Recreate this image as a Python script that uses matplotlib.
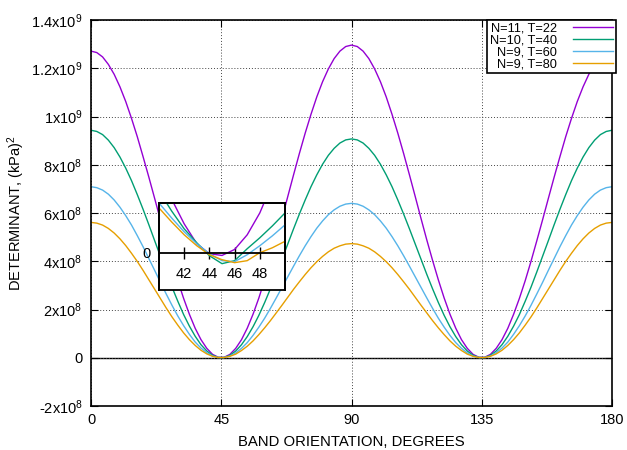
import numpy as np
import matplotlib
matplotlib.use('Agg')
import matplotlib.pyplot as plt

plt.rcParams['font.family'] = ['Liberation Sans', 'DejaVu Sans']
plt.rcParams['mathtext.default'] = 'regular'

# band orientation (degrees), sampled every 2 degrees
angles = np.arange(0, 181, 2)

# determinant values, units of 1e8 (kPa)^2
det_n11_t22 = [12.71, 12.65, 12.47, 12.16, 11.75, 11.23, 10.62, 9.92, 9.16, 8.33,
               7.48, 6.60, 5.71, 4.84, 3.99, 3.19, 2.46, 1.80, 1.22, 0.75,
               0.39, 0.14, 0.02, 0.02, 0.14, 0.39, 0.75, 1.23, 1.81, 2.48,
               3.23, 4.04, 4.89, 5.78, 6.69, 7.59, 8.47, 9.31, 10.09, 10.81,
               11.44, 11.97, 12.40, 12.71, 12.90, 12.96,
               12.90, 12.71, 12.40, 11.97, 11.44, 10.81, 10.09, 9.31, 8.47, 7.59,
               6.69, 5.78, 4.89, 4.04, 3.23, 2.48, 1.81, 1.23, 0.75, 0.39,
               0.14, 0.02, 0.02, 0.14, 0.39, 0.75, 1.22, 1.80, 2.46, 3.19,
               3.99, 4.84, 5.71, 6.60, 7.48, 8.33, 9.16, 9.92, 10.62, 11.23,
               11.75, 12.16, 12.47, 12.65, 12.71]
det_n10_t40 = [9.43, 9.38, 9.25, 9.02, 8.71, 8.32, 7.86, 7.34, 6.76, 6.15,
               5.51, 4.85, 4.20, 3.55, 2.92, 2.34, 1.79, 1.31, 0.89, 0.54,
               0.28, 0.10, 0.01, 0.01, 0.10, 0.28, 0.54, 0.88, 1.29, 1.76,
               2.29, 2.86, 3.46, 4.09, 4.72, 5.35, 5.96, 6.54, 7.09, 7.58,
               8.02, 8.39, 8.68, 8.90, 9.03, 9.07,
               9.03, 8.90, 8.68, 8.39, 8.02, 7.58, 7.09, 6.54, 5.96, 5.35,
               4.72, 4.09, 3.46, 2.86, 2.29, 1.76, 1.29, 0.88, 0.54, 0.28,
               0.10, 0.01, 0.01, 0.10, 0.28, 0.54, 0.89, 1.31, 1.79, 2.34,
               2.92, 3.55, 4.20, 4.85, 5.51, 6.15, 6.76, 7.34, 7.86, 8.32,
               8.71, 9.02, 9.25, 9.38, 9.43]
det_n9_t60 = [7.09, 7.05, 6.95, 6.78, 6.54, 6.24, 5.89, 5.50, 5.06, 4.60,
              4.11, 3.62, 3.12, 2.64, 2.17, 1.73, 1.33, 0.97, 0.65, 0.40,
              0.21, 0.07, 0.01, 0.01, 0.07, 0.20, 0.39, 0.63, 0.93, 1.27,
              1.64, 2.05, 2.48, 2.92, 3.36, 3.80, 4.23, 4.64, 5.02, 5.37,
              5.67, 5.93, 6.13, 6.28, 6.37, 6.40,
              6.37, 6.28, 6.13, 5.93, 5.67, 5.37, 5.02, 4.64, 4.23, 3.80,
              3.36, 2.92, 2.48, 2.05, 1.64, 1.27, 0.93, 0.63, 0.39, 0.20,
              0.07, 0.01, 0.01, 0.07, 0.21, 0.40, 0.65, 0.97, 1.33, 1.73,
              2.17, 2.64, 3.12, 3.62, 4.11, 4.60, 5.06, 5.50, 5.89, 6.24,
              6.54, 6.78, 6.95, 7.05, 7.09]
det_n9_t80 = [5.61, 5.58, 5.50, 5.36, 5.17, 4.93, 4.65, 4.33, 3.99, 3.62,
              3.23, 2.84, 2.45, 2.06, 1.69, 1.35, 1.03, 0.75, 0.51, 0.31,
              0.16, 0.06, 0.01, 0.01, 0.06, 0.15, 0.30, 0.48, 0.70, 0.96,
              1.24, 1.54, 1.86, 2.18, 2.51, 2.84, 3.15, 3.45, 3.73, 3.98,
              4.20, 4.39, 4.54, 4.64, 4.71, 4.73,
              4.71, 4.64, 4.54, 4.39, 4.20, 3.98, 3.73, 3.45, 3.15, 2.84,
              2.51, 2.18, 1.86, 1.54, 1.24, 0.96, 0.70, 0.48, 0.30, 0.15,
              0.06, 0.01, 0.01, 0.06, 0.16, 0.31, 0.51, 0.75, 1.03, 1.35,
              1.69, 2.06, 2.45, 2.84, 3.23, 3.62, 3.99, 4.33, 4.65, 4.93,
              5.17, 5.36, 5.50, 5.58, 5.61]

# zoomed view around 45 degrees, units of 1e6 (kPa)^2
inset_angles = np.arange(40, 51, 1)
inset_n11_t22 = [34, 21.6, 11.6, 3.6, -0.4, -1.1, 1.3, 7.2, 16, 28, 42]
inset_n10_t40 = [24.8, 16.8, 9.6, 4.0, -1.2, -4.4, -3.2, 1.6, 6.0, 10.8, 16]
inset_n9_t60 = [20, 14, 8.4, 3.6, -0.4, -3.2, -3.6, -0.8, 2.8, 6.8, 11.2]
inset_n9_t80 = [18, 12.4, 7.2, 2.8, -0.8, -2.8, -4.0, -3.2, 0.0, 2.0, 4.6]

labels = ['N=11, T=22', 'N=10, T=40', 'N=9, T=60', 'N=9, T=80']
colors = ['#9400d3', '#009e73', '#56b4e9', '#e69f00']

ytick_vals = [-2, 0, 2, 4, 6, 8, 10, 12, 14]
ytick_labels = ['-2x10$^8$', '0', '2x10$^8$', '4x10$^8$', '6x10$^8$', '8x10$^8$',
                '1x10$^9$', '1.2x10$^9$', '1.4x10$^9$']
xtick_vals = [0, 45, 90, 135, 180]

fig = plt.figure(figsize=(6.27, 4.5), dpi=100)
ax = fig.add_axes([91 / 627, 1 - 406 / 450, 521 / 627, 386 / 450])

series = [det_n11_t22, det_n10_t40, det_n9_t60, det_n9_t80]
for vals, lab, col in zip(series, labels, colors):
    ax.plot(angles, vals, color=col, lw=1.0, label=lab)

ax.axhline(0, color='black', lw=1.0, zorder=1)
ax.set_xlim(0, 180)
ax.set_ylim(-2, 14)
ax.set_xticks(xtick_vals)
ax.set_yticks(ytick_vals)
ax.set_yticklabels(ytick_labels)
ax.grid(True, linestyle=(0, (1, 2)), color='#444444', lw=0.7)
ax.tick_params(direction='in', top=True, right=True, length=5, labelsize=10.5)
ax.tick_params(axis='x', pad=5)
ax.tick_params(axis='y', pad=6)
for s in ax.spines.values():
    s.set_linewidth(1.2)
ax.set_xlabel('BAND ORIENTATION, DEGREES', fontsize=10.7, labelpad=6)
ax.set_ylabel('DETERMINANT, (kPa)$^2$', fontsize=10.5, labelpad=3)

leg = ax.legend(loc='upper right', bbox_to_anchor=(1.007, 1.0), markerfirst=False,
                fancybox=False, edgecolor='black', framealpha=1, fontsize=9.2,
                borderaxespad=0, handlelength=3.1, labelspacing=0.0,
                borderpad=0.2, handletextpad=1.3)
leg.get_frame().set_linewidth(1.2)

# inset
ax_in = fig.add_axes([159 / 627, 1 - 290 / 450, 126 / 627, 87 / 450])
inset_series = [inset_n11_t22, inset_n10_t40, inset_n9_t60, inset_n9_t80]
for vals, col in zip(inset_series, colors):
    ax_in.plot(inset_angles, vals, color=col, lw=1.0)
ax_in.set_xlim(40, 50)
ax_in.set_ylim(-15, 20)
ax_in.spines['bottom'].set_position(('data', 0))
for s in ax_in.spines.values():
    s.set_linewidth(1.3)
ax_in.patch.set_edgecolor('black')
ax_in.patch.set_linewidth(1.3)
ax_in.set_xticks([42, 44, 46, 48])
ax_in.set_yticks([0])
ax_in.tick_params(axis='x', direction='inout', length=9, width=1, pad=6, labelsize=10.5)
ax_in.tick_params(axis='y', length=0, pad=6, labelsize=10.5)

fig.savefig('out.png', dpi=100)
